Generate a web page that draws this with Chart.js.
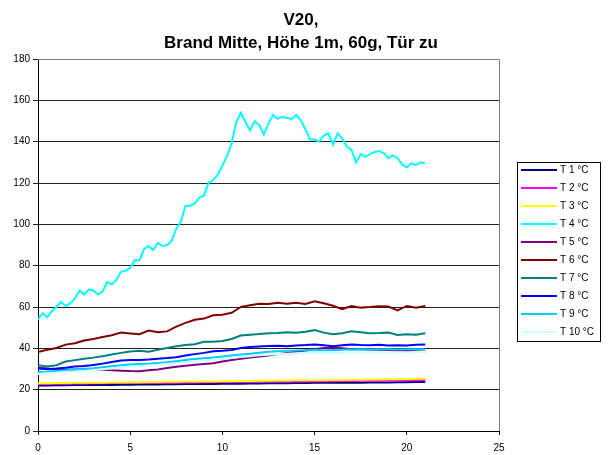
<!DOCTYPE html>
<html>
<head>
<meta charset="utf-8">
<title>V20 Brand Mitte</title>
<script src="https://cdn.jsdelivr.net/npm/chart.js@4/dist/chart.umd.min.js"></script>
<style>
  html, body { margin: 0; padding: 0; background: #fff; }
  #wrap { width: 612px; height: 455px; }
</style>
</head>
<body>
<div id="wrap"><canvas id="chart" width="612" height="455"></canvas></div>
<script>
// Zeitachse in Minuten (halbe Minute Raster) und feineres Raster für T4
const minutes = [0, 0.5, 1, 1.5, 2, 2.5, 3, 3.5, 4, 4.5, 5, 5.5, 6, 6.5, 7, 7.5, 8, 8.5, 9, 9.5, 10,
  10.5, 11, 11.5, 12, 12.5, 13, 13.5, 14, 14.5, 15, 15.5, 16, 16.5, 17, 17.5, 18, 18.5, 19, 19.5, 20, 20.5, 21];
const minutesFine = [0, 0.25, 0.5, 0.75, 1, 1.25, 1.5, 1.75, 2, 2.25, 2.5, 2.75, 3, 3.25, 3.5, 3.75,
  4, 4.25, 4.5, 4.75, 5, 5.25, 5.5, 5.75, 6, 6.25, 6.5, 6.75, 7, 7.25, 7.5, 7.75,
  8, 8.25, 8.5, 8.75, 9, 9.25, 9.5, 9.75, 10, 10.25, 10.5, 10.75, 11, 11.25, 11.5, 11.75,
  12, 12.25, 12.5, 12.75, 13, 13.25, 13.5, 13.75, 14, 14.25, 14.5, 14.75, 15, 15.25, 15.5, 15.75,
  16, 16.25, 16.5, 16.75, 17, 17.25, 17.5, 17.75, 18, 18.25, 18.5, 18.75, 19, 19.25, 19.5, 19.75,
  20, 20.25, 20.5, 20.75, 21];

// Temperaturen in °C
const t1 = [22.0, 22.0, 22.1, 22.1, 22.2, 22.2, 22.2, 22.3, 22.3, 22.4, 22.4, 22.5, 22.5, 22.5, 22.6, 22.6, 22.7, 22.7, 22.8, 22.8,
  22.9, 22.9, 22.9, 23.0, 23.0, 23.1, 23.1, 23.1, 23.2, 23.2, 23.3, 23.3, 23.3, 23.4, 23.4, 23.4, 23.5, 23.5, 23.5, 23.6, 23.6, 23.7, 23.7];
const t2 = [22.8, 22.8, 22.9, 22.9, 23.0, 23.0, 23.1, 23.1, 23.2, 23.2, 23.3, 23.3, 23.3, 23.4, 23.4, 23.5, 23.5, 23.5, 23.6, 23.6,
  23.7, 23.7, 23.7, 23.8, 23.8, 23.9, 23.9, 23.9, 24.0, 24.0, 24.1, 24.1, 24.1, 24.2, 24.2, 24.3, 24.3, 24.3, 24.4, 24.4, 24.5, 24.5, 24.6];
const t3 = [23.1, 23.1, 23.2, 23.2, 23.3, 23.3, 23.4, 23.4, 23.5, 23.5, 23.6, 23.6, 23.7, 23.7, 23.8, 23.8, 23.9, 23.9, 24.0, 24.0,
  24.1, 24.1, 24.2, 24.2, 24.3, 24.3, 24.4, 24.4, 24.5, 24.5, 24.6, 24.6, 24.7, 24.7, 24.8, 24.8, 24.9, 24.9, 25.0, 25.1, 25.2, 25.3, 25.4];
const t4 = [54, 57, 55, 58, 60, 62.5, 60.5, 61.8, 64, 68, 66, 68.5, 68, 66, 67.5, 72,
  71, 73, 77, 77.5, 79, 82.7, 82.5, 88, 89.5, 87.6, 91, 89.5, 90, 92, 98, 101.3,
  109, 109, 110, 113, 114, 120, 121.4, 124, 128.5, 133, 139.2, 149.5, 154, 149.5, 145.5, 150,
  148, 143.5, 149, 152.9, 151, 152, 151.5, 151, 152.9, 150.5, 146, 141, 141, 140, 143, 144,
  138.5, 144, 141.5, 137.5, 136, 130, 134, 132.7, 134, 135, 135.5, 134.5, 132, 133.5, 132, 129,
  127.5, 129.5, 128.7, 130, 129.5];
const t5 = [30.6, 30.2, 29.8, 29.6, 29.8, 30.0, 29.9, 29.6, 29.4, 29.2, 29.0, 28.9, 29.4, 29.8, 30.5, 31.1, 31.6, 32.0, 32.4, 32.8,
  33.6, 34.4, 35.0, 35.6, 36.0, 36.5, 37.2, 37.8, 38.3, 39.0, 39.6, 40.2, 40.4, 40.0, 39.6, 39.5, 39.4, 39.3, 39.2, 38.9, 38.8, 38.6, 38.3];
const t6 = [38.2, 39.3, 40.2, 41.8, 42.5, 43.8, 44.5, 45.5, 46.3, 47.6, 47.2, 46.8, 48.6, 47.8, 48.2, 50.5, 52.3, 53.8, 54.4, 56.0,
  56.3, 57.2, 60.0, 60.8, 61.6, 61.4, 62.0, 61.6, 62.1, 61.5, 62.8, 61.8, 60.6, 59.0, 60.5, 59.7, 60.0, 60.4, 60.2, 58.3, 60.5, 59.7, 60.5];
const t7 = [31.8, 31.2, 31.8, 33.6, 34.3, 35.0, 35.5, 36.2, 37.0, 37.8, 38.5, 38.8, 38.3, 39.3, 40.2, 41.0, 41.6, 42.0, 43.2, 43.2,
  43.6, 44.5, 46.2, 46.6, 46.9, 47.3, 47.4, 47.8, 47.6, 48.0, 48.8, 47.6, 46.8, 47.3, 48.3, 47.8, 47.3, 47.4, 47.6, 46.5, 46.8, 46.6, 47.3];
const t8 = [30.2, 29.9, 30.2, 30.6, 31.2, 31.5, 31.9, 32.6, 33.4, 34.1, 34.4, 34.4, 34.6, 35.0, 35.3, 35.7, 36.5, 37.2, 37.8, 38.6,
  38.8, 39.2, 40.2, 40.7, 40.9, 41.1, 41.2, 41.0, 41.4, 41.6, 41.9, 41.5, 41.0, 41.5, 41.9, 41.6, 41.5, 41.7, 41.4, 41.5, 41.4, 41.7, 41.9];
const t9 = [28.5, 28.7, 29.0, 29.4, 29.8, 30.1, 30.4, 30.8, 31.3, 31.8, 32.2, 32.4, 32.6, 32.9, 33.3, 33.8, 34.3, 34.8, 35.2, 35.6,
  36.0, 36.5, 37.0, 37.4, 37.9, 38.3, 38.6, 38.8, 39.0, 39.1, 39.2, 39.1, 39.2, 39.3, 39.4, 39.5, 39.4, 39.5, 39.5, 39.4, 39.5, 39.5, 39.6];
const t10 = [27.6, 27.9, 28.2, 28.5, 28.8, 29.1, 29.5, 29.9, 30.3, 30.7, 31.1, 31.4, 31.7, 32.0, 32.4, 32.8, 33.2, 33.7, 34.1, 34.5,
  34.9, 35.3, 35.8, 36.2, 36.6, 36.9, 37.2, 37.4, 37.6, 37.7, 37.8, 37.8, 37.9, 37.9, 38.0, 38.0, 38.0, 38.1, 38.0, 38.1, 38.1, 38.2, 38.2];

const seriesNames = ['T 1 °C', 'T 2 °C', 'T 3 °C', 'T 4 °C', 'T 5 °C', 'T 6 °C', 'T 7 °C', 'T 8 °C', 'T 9 °C', 'T 10 °C'];
const seriesValues = [t1, t2, t3, t4, t5, t6, t7, t8, t9, t10];
const seriesColors = ['#000080', '#FF00FF', '#FFFF00', '#00FFFF', '#800080', '#800000', '#008080', '#0000FF', '#00CCFF', '#CCFFFF'];

const titleLines = ['V20,', 'Brand Mitte, Höhe 1m, 60g, Tür zu'];
const yTicks = [0, 20, 40, 60, 80, 100, 120, 140, 160, 180];
const xTicks = [0, 5, 10, 15, 20, 25];

const FONT = 'Liberation Sans, Arial, sans-serif';

function toPoints(times, values) {
  return values.map((v, i) => ({ x: times[i], y: v }));
}

const datasets = seriesValues.map((vals, i) => ({
  label: seriesNames[i],
  data: toPoints(vals === t4 ? minutesFine : minutes, vals),
  borderColor: seriesColors[i],
  backgroundColor: seriesColors[i],
  borderWidth: 2,
  pointRadius: 0,
  tension: 0,
  fill: false,
  order: seriesValues.length - i
}));

// Rahmen um die Zeichenfläche (grau, wie im Excel-Diagramm)
const plotFrame = {
  id: 'plotFrame',
  beforeDatasetsDraw(chart) {
    const { ctx, chartArea: a } = chart;
    ctx.save();
    ctx.strokeStyle = '#808080';
    ctx.lineWidth = 1;
    ctx.beginPath();
    ctx.moveTo(a.left, a.top + 0.5);
    ctx.lineTo(a.right + 0.5, a.top + 0.5);
    ctx.lineTo(a.right + 0.5, a.bottom);
    ctx.stroke();
    ctx.restore();
  }
};

// Titel über dem ganzen Diagramm zentriert (nicht nur über der Zeichenfläche)
const wideTitle = {
  id: 'wideTitle',
  afterDraw(chart) {
    const ctx = chart.ctx;
    ctx.save();
    ctx.font = 'bold 17px ' + FONT;
    ctx.fillStyle = '#000';
    ctx.textAlign = 'center';
    ctx.textBaseline = 'middle';
    titleLines.forEach((line, i) => ctx.fillText(line, 301, 20 + i * 23));
    ctx.restore();
  }
};

// Legende rechts im Kasten
const boxLegend = {
  id: 'boxLegend',
  afterDraw(chart) {
    const ctx = chart.ctx;
    const left = 517.5, top = 162.5, w = 83, h = 179;
    ctx.save();
    ctx.fillStyle = '#fff';
    ctx.fillRect(left, top, w, h);
    ctx.strokeStyle = '#000';
    ctx.lineWidth = 1;
    ctx.strokeRect(left, top, w, h);
    ctx.font = '10px ' + FONT;
    ctx.textBaseline = 'middle';
    ctx.textAlign = 'left';
    chart.data.datasets.forEach((ds, i) => {
      const y = 170 + i * 18;
      ctx.strokeStyle = ds.borderColor;
      ctx.lineWidth = 2;
      ctx.beginPath();
      ctx.moveTo(521, y);
      ctx.lineTo(557, y);
      ctx.stroke();
      ctx.fillStyle = '#000';
      ctx.fillText(ds.label, 560, y + 0.5);
    });
    ctx.restore();
  }
};

new Chart(document.getElementById('chart'), {
  type: 'line',
  data: { datasets: datasets },
  plugins: [plotFrame, wideTitle, boxLegend],
  options: {
    responsive: false,
    animation: false,
    layout: { padding: { left: 0, right: 113, top: 59, bottom: 0 } },
    plugins: {
      legend: { display: false },
      tooltip: { enabled: false },
      title: { display: false }
    },
    scales: {
      x: {
        type: 'linear',
        min: 0,
        max: 25,
        afterBuildTicks(scale) { scale.ticks = xTicks.map(v => ({ value: v })); },
        afterFit(scale) { scale.height = 24; },
        grid: { drawOnChartArea: false, drawTicks: true, tickLength: 4, color: '#000' },
        border: { color: '#000', width: 1 },
        ticks: { color: '#000', font: { family: FONT, size: 10 }, padding: 7, maxRotation: 0 }
      },
      y: {
        min: 0,
        max: 180,
        afterBuildTicks(scale) { scale.ticks = yTicks.map(v => ({ value: v })); },
        afterFit(scale) { scale.width = 38; },
        grid: { color: '#222', tickLength: 5, drawTicks: true },
        border: { color: '#000', width: 1 },
        ticks: { color: '#000', font: { family: FONT, size: 10 }, padding: 3 }
      }
    }
  }
});
</script>
</body>
</html>
